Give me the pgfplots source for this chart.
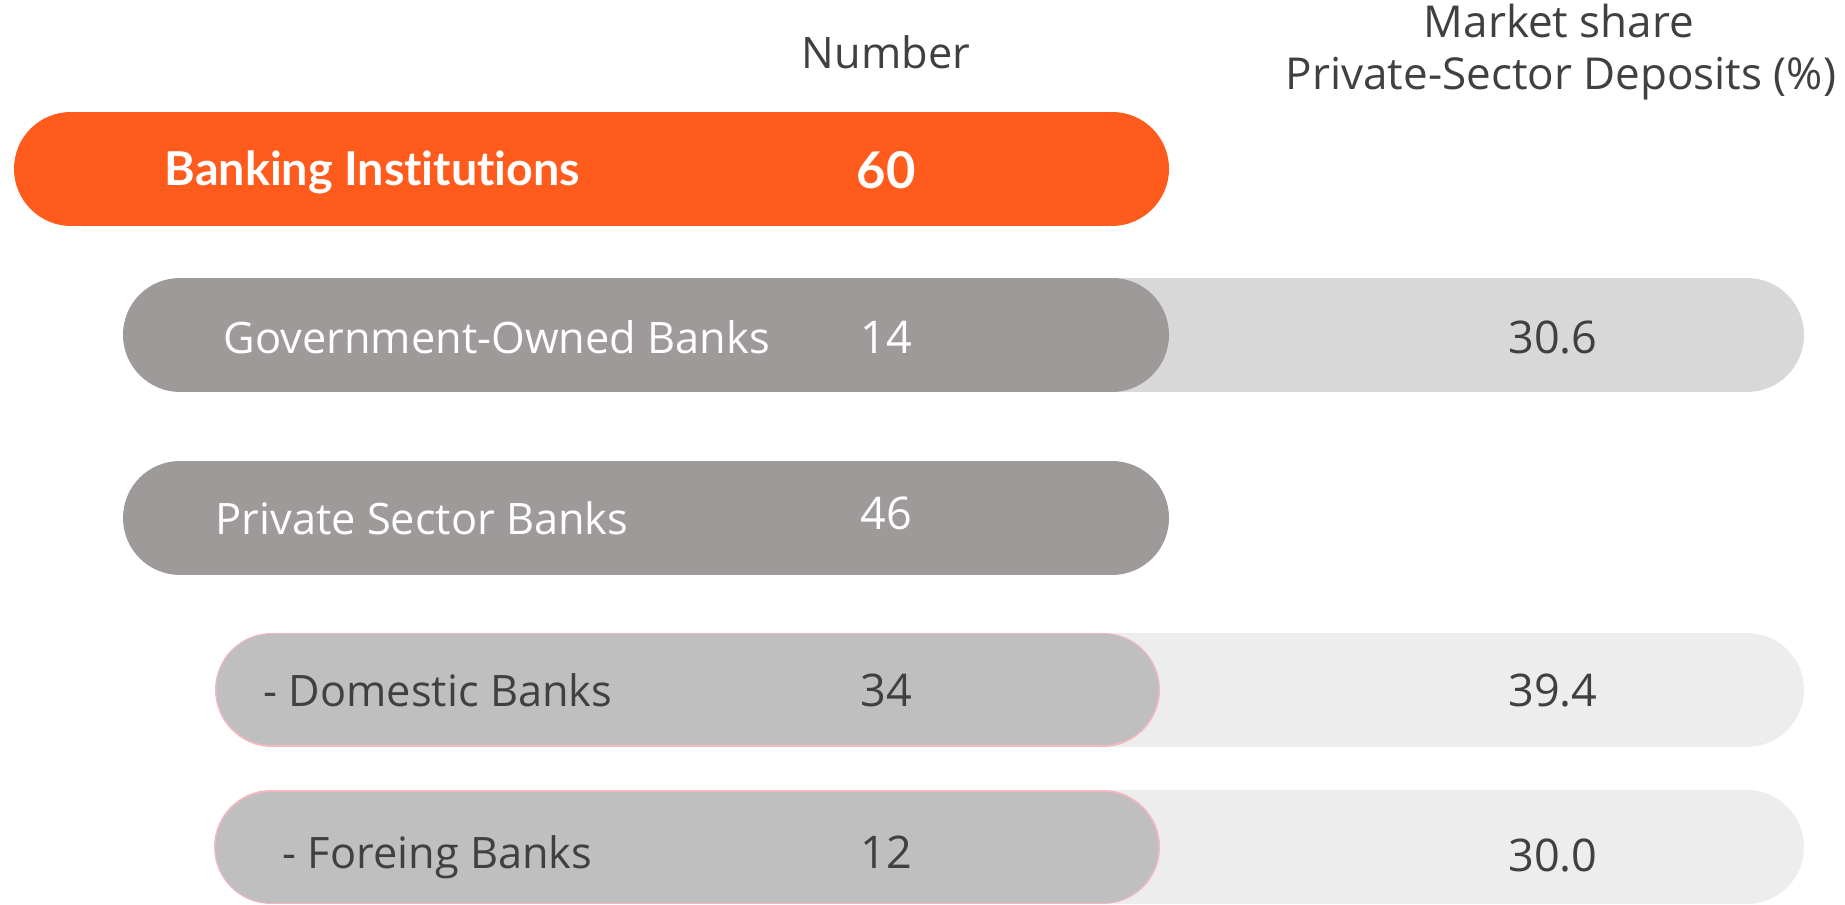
\documentclass[border=0pt]{standalone}
\usepackage{pgfplots}
\pgfplotsset{compat=1.18}
\usepackage{fontspec}
\setmainfont{Open Sans}
\newfontfamily\boldfont[Ligatures=NoCommon]{Lato}
\definecolor{barorange}{HTML}{FF5B1C}
\definecolor{bardark}{HTML}{9E9A99}
\definecolor{barlightA}{HTML}{D8D8D8}
\definecolor{barmid}{HTML}{BFBFBF}
\definecolor{barlightB}{HTML}{EDEDED}
\definecolor{pinkedge}{HTML}{F4B8C0}
\definecolor{txt}{HTML}{404040}
\tikzset{
  lbl/.style={font=\fontsize{13}{15.6}\selectfont, inner sep=0pt},
  hdr/.style={font=\fontsize{13.2}{15.6}\selectfont, inner sep=0pt},
  numfont/.style={font=\fontsize{13.5}{16}\selectfont, inner sep=0pt},
  bfont/.style={font=\fontsize{14}{17}\selectfont\boldfont\bfseries, inner sep=0pt},
  bnum/.style={font=\fontsize{15.2}{18}\selectfont\boldfont\bfseries, inner sep=0pt},
}
\begin{document}
\begin{tikzpicture}
\begin{axis}[
  width=553.5pt, height=271.2pt, scale only axis,
  xmin=0, xmax=1845, ymin=0, ymax=904, y dir=reverse,
  axis lines=none, clip=false,
]
\path (rel axis cs:0,0) rectangle (rel axis cs:1,1);
% light (market share) bars
\addplot[draw=barlightA, line width=34.2pt, line cap=round] coordinates {(867,335) (1747,335)};
\addplot[draw=barlightB, line width=34.2pt, line cap=round] coordinates {(867,689.5) (1747,689.5)};
\addplot[draw=barlightB, line width=34.2pt, line cap=round] coordinates {(867,847) (1747,847)};
% number bars
\addplot[draw=barorange, line width=34.2pt, line cap=round] coordinates {(71,168.5) (1112,168.5)};
\addplot[draw=bardark, line width=34.2pt, line cap=round] coordinates {(180,334.5) (1112,334.5)};
\addplot[draw=bardark, line width=34.2pt, line cap=round] coordinates {(180,518) (1112,518)};
\addplot[draw=pinkedge, line width=34.2pt, line cap=round] coordinates {(272,689.5) (1103,689.5)};
\addplot[draw=barmid, line width=33.3pt, line cap=round] coordinates {(272,689.5) (1103,689.5)};
\addplot[draw=pinkedge, line width=34.2pt, line cap=round] coordinates {(271,847) (1103,847)};
\addplot[draw=barmid, line width=33.3pt, line cap=round] coordinates {(271,847) (1103,847)};
% headers
\node[anchor=base, text=txt, lbl] at (axis cs:886,68) {Number};
\node[anchor=base, text=txt, hdr] at (axis cs:1559,37) {Market share};
\node[anchor=base, text=txt, hdr] at (axis cs:1561,89) {Private-Sector Deposits (\%)};
% row labels
\node[anchor=base west, text=white, bfont] at (axis cs:164,185) {Banking Institutions};
\node[anchor=base west, text=white, lbl] at (axis cs:223,353) {Government-Owned Banks};
\node[anchor=base west, text=white, lbl] at (axis cs:215,534) {Private Sector Banks};
\node[anchor=base west, text=txt, lbl] at (axis cs:263,706) {- Domestic Banks};
\node[anchor=base west, text=txt, lbl] at (axis cs:282,868) {- Foreing Banks};
% numbers
\node[anchor=base, text=white, bnum] at (axis cs:886,188) {60};
\node[anchor=base, text=white, numfont] at (axis cs:886,353) {14};
\node[anchor=base, text=white, numfont] at (axis cs:886,529) {46};
\node[anchor=base, text=txt, numfont] at (axis cs:886,706) {34};
\node[anchor=base, text=txt, numfont] at (axis cs:886,868) {12};
% market shares
\node[anchor=base, text=txt, numfont] at (axis cs:1553,353) {30.6};
\node[anchor=base, text=txt, numfont] at (axis cs:1553,706) {39.4};
\node[anchor=base, text=txt, numfont] at (axis cs:1553,871) {30.0};
\end{axis}
\end{tikzpicture}
\end{document}
